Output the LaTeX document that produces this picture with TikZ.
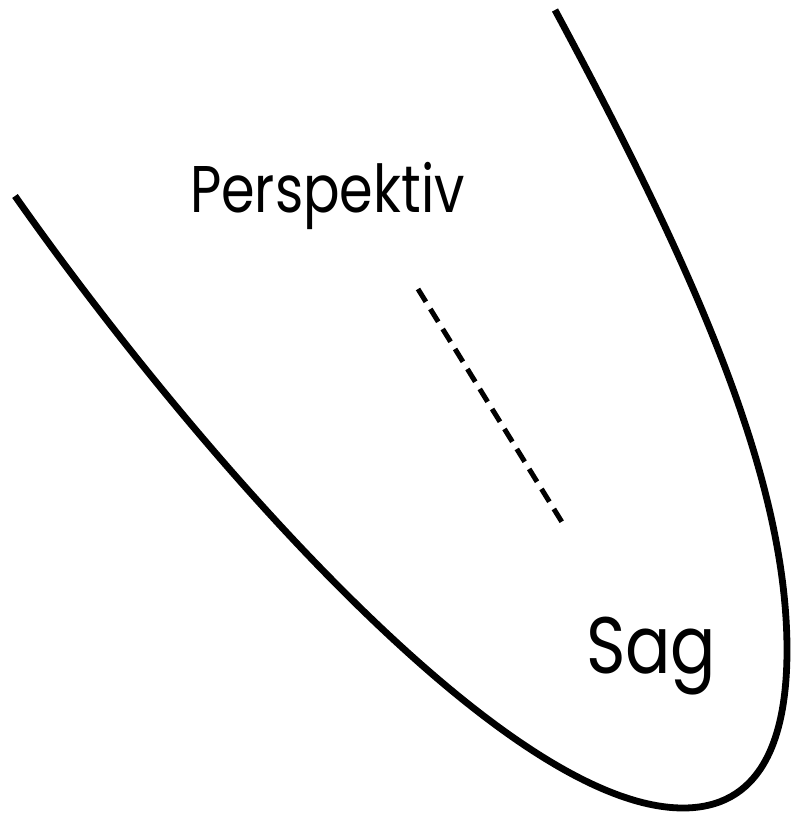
\documentclass[tikz,border=0pt]{standalone}
\usepackage{graphicx}
\usepackage{fontspec}
\setmainfont{Poppins}
\tikzset{
  curve/.style={line width=6.8pt, line cap=butt, line join=round},
  axisline/.style={line width=5pt, dash pattern=on 15pt off 8.5pt},
  lbl/.style={anchor=base west, inner sep=0pt, outer sep=0pt}
}
\begin{document}
\begin{tikzpicture}[x=1pt,y=-1pt]
\useasboundingbox (0,0) rectangle (791,815);
\coordinate (a0) at (15,196);
\coordinate (a1) at (683,808);
\coordinate (a2) at (787,650);
\coordinate (a3) at (555,10);
\draw[curve] (a0) .. controls (187,441) and (503,808) .. (a1)
  .. controls (758,808) and (787,745) .. (a2)
  .. controls (787,480) and (697,274) .. (a3);
\coordinate (d1) at (418,289);
\coordinate (d2) at (565,527);
\draw[axisline] (d1) -- (d2);
\node[lbl, font=\fontsize{66}{70}\selectfont] (persp) at (190,212) {\scalebox{0.82}[1]{Perspektiv}};
\node[lbl, font=\fontsize{80}{84}\selectfont] (sag) at (586,673) {\scalebox{0.84}[1]{Sag}};
\end{tikzpicture}
\end{document}
